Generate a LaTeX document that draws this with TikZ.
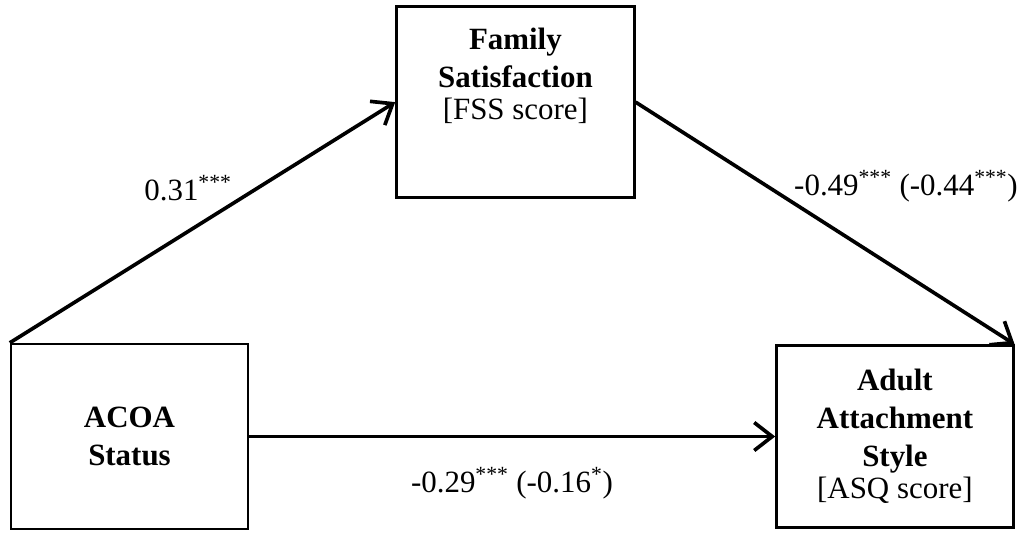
\documentclass[tikz,border=0pt]{standalone}
\usepackage{fontspec}
\setmainfont{Liberation Serif}
\usetikzlibrary{arrows.meta, positioning}

\begin{document}
\begin{tikzpicture}[
    node distance=1.5cm,
    varbox/.style={draw, line width=1.7pt, minimum width=5.925cm, minimum height=4.625cm, align=center, font=\fontsize{22}{27}\selectfont\bfseries},
    boxtext/.style={inner sep=0pt, align=center, font=\fontsize{22}{27}\selectfont\bfseries},
    arrow/.style={-{Straight Barb[length=4.5mm, width=7mm]}, line width=2.6pt},
    coef/.style={anchor=base, inner sep=0pt, font=\fontsize{22}{27}\selectfont}
]
\useasboundingbox (0,0) rectangle (25.6,13.525);

% Variables
\node[varbox] (acoa) at (3.2375,2.6125) {ACOA\\Status};
\node[varbox, minimum width=5.95cm, minimum height=4.775cm, above right=3.6cm and 3.65cm of acoa] (fss) {};
\node[boxtext, below=0.55cm of fss.north] (fsstext) {Family\\Satisfaction\\[-4pt]{\mdseries [FSS score]}};
\node[varbox, minimum height=4.55cm, right=13.15cm of acoa] (asq) {Adult\\Attachment\\Style\\[-4pt]{\mdseries [ASQ score]}};

% Paths
\draw[arrow] (acoa.north west) -- (fss.west);
\draw[arrow] (fss.east) -- (asq.north east);
\draw[arrow] (acoa.east) -- (asq.west);

% Coefficients
\node[coef] (pathA) at (4.7,8.525) {0.31\textsuperscript{***}};
\node[coef] (pathB) at (22.65,8.65) {-0.49\textsuperscript{***} (-0.44\textsuperscript{***})};
\node[coef] (pathC) at (12.8,1.225) {-0.29\textsuperscript{***} (-0.16\textsuperscript{*})};

\end{tikzpicture}
\end{document}
